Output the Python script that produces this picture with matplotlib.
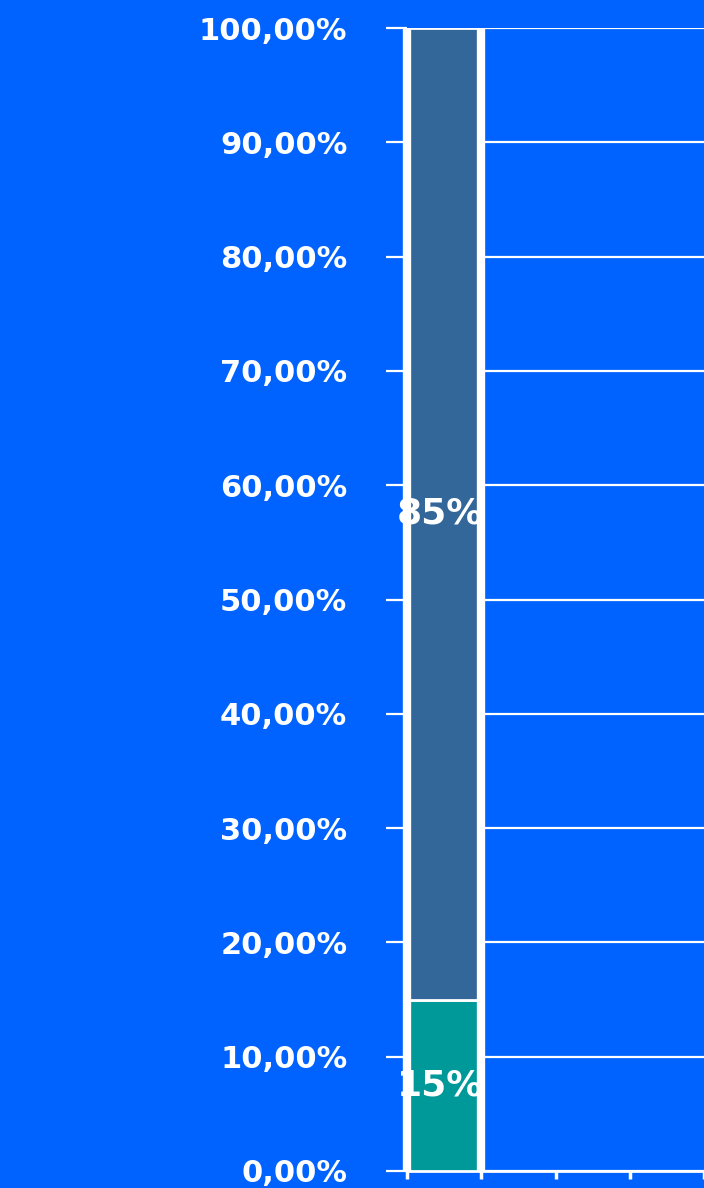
import matplotlib.pyplot as plt
from matplotlib.ticker import FixedLocator, FuncFormatter, NullFormatter
import numpy as np

# Data
categories = ['A', 'B', 'C', 'D']
share_low = [15, 0, 0, 0]    # teal segment (%)
share_high = [85, 0, 0, 0]   # dark segment (%)
y_ticks = np.arange(0, 101, 10)

BG = '#0063ff'
DARK = '#336699'
TEAL = '#009999'
WHITE = '#ffffff'
FS = 22

plt.rcParams['font.family'] = ['DejaVu Sans']

fig = plt.figure(figsize=(7.04, 11.88), dpi=100, facecolor=BG)
ax = fig.add_axes([407 / 704, 17 / 1188, 297 / 704, 1143 / 1188])
ax.set_facecolor(BG)

x = np.arange(len(categories)) + 0.5
ax.bar(x[:1], share_low[:1], width=1.0, color=TEAL, edgecolor=WHITE,
       linewidth=2, zorder=3)
ax.bar(x[:1], share_high[:1], width=1.0, bottom=share_low[:1], color=DARK,
       edgecolor=WHITE, linewidth=2, zorder=3)

# thick white uprights at bar sides
ax.vlines([x[0] - 0.5, x[0] + 0.5], 0, 100, color=WHITE, linewidth=6,
          zorder=4, clip_on=False)

# value labels, a bit wider spacing than the bar
for val, base in [(share_low[0], 0), (share_high[0], share_low[0])]:
    ax.text(x[0] - 0.05, base + val / 2, f'{val}%', ha='center',
            va='center', color=WHITE, fontsize=FS + 4, fontweight='bold',
            zorder=5)

ax.set_xlim(0, len(categories))
ax.set_ylim(0, 100)

ax.yaxis.set_major_locator(FixedLocator(y_ticks))
ax.yaxis.set_major_formatter(
    FuncFormatter(lambda v, p: f'{v:.2f}'.replace('.', ',') + '%'))
ax.grid(axis='y', color=WHITE, linewidth=1.6, zorder=1)
ax.set_axisbelow(True)

ax.xaxis.set_major_locator(FixedLocator(np.arange(len(categories) + 1)))
ax.xaxis.set_major_formatter(NullFormatter())

ax.tick_params(axis='y', colors=WHITE, length=15, width=1.6, pad=28,
               labelsize=FS)
ax.tick_params(axis='x', colors=WHITE, length=6, width=2.5)
for lbl in ax.get_yticklabels():
    lbl.set_fontweight('bold')

for side in ['top', 'right', 'left']:
    ax.spines[side].set_visible(False)
ax.spines['bottom'].set_color(WHITE)
ax.spines['bottom'].set_linewidth(2)

fig.savefig('out.png', dpi=100, facecolor=BG)
